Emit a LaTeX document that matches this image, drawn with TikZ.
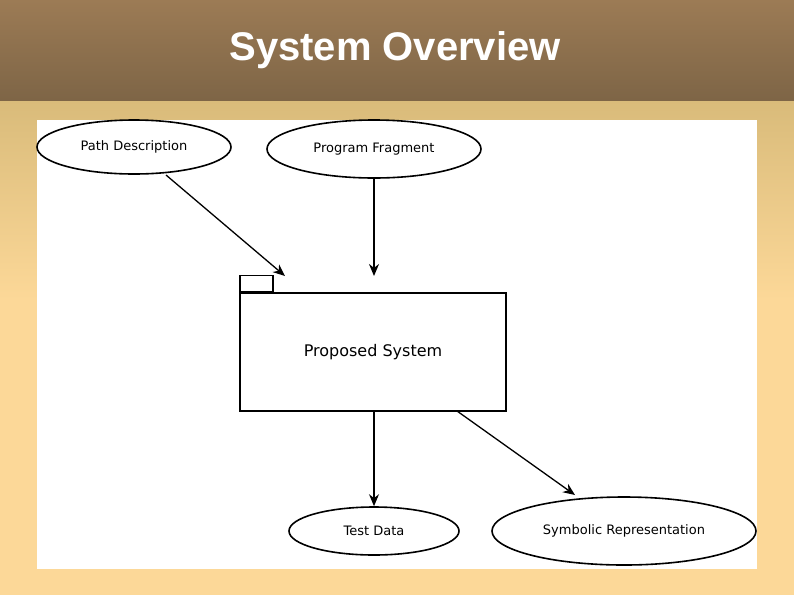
\documentclass[tikz,border=0pt]{standalone}
\usepackage{fontspec}
\setmainfont{DejaVu Sans}
\newfontfamily\titlefont{Liberation Sans}
\usetikzlibrary{arrows.meta,shapes.geometric}
\definecolor{hdtop}{RGB}{156,123,85}
\definecolor{hdbot}{RGB}{126,101,70}
\definecolor{bgtop}{RGB}{217,187,122}
\definecolor{bgbot}{RGB}{252,216,152}
\begin{document}
\begin{tikzpicture}[x=1pt,y=-1pt,
  ell/.style={draw,line width=1.6pt,ellipse,inner sep=0pt,font=\fontsize{13}{15}\selectfont},
  arr/.style={line width=1.3pt,-{Stealth[length=12pt,width=10pt]}}]
\useasboundingbox (0,0) rectangle (794,595);
\fill[bgbot] (0,100) rectangle (794,595);
\shade[top color=bgtop,bottom color=bgbot] (0,100) rectangle (794,300);
\shade[top color=hdtop,bottom color=hdbot] (0,0) rectangle (794,100);
\node[text=white,font=\titlefont\bfseries\fontsize{40}{46}\selectfont] (title) at (395,50) {System Overview};
\fill[white] (37,120) rectangle (757,569);
\node[ell,minimum width=194pt,minimum height=54pt] (pd) at (134,147) {Path Description};
\node[ell,minimum width=214pt,minimum height=58pt] (pf) at (374,149) {Program Fragment};
\node[ell,minimum width=170pt,minimum height=48pt] (td) at (374,531) {Test Data};
\node[ell,minimum width=264pt,minimum height=68pt] (sr) at (624,531) {Symbolic Representation};
\node[draw,line width=1.6pt,minimum width=266pt,minimum height=118pt,inner sep=0pt,font=\fontsize{16}{18}\selectfont,text depth=0pt] (ps) at (373,352) {\raisebox{4pt}{Proposed System}};
\node[draw,line width=1.6pt,minimum width=33pt,minimum height=16pt,inner sep=0pt,anchor=south west] (tab) at (ps.north west) {};
\coordinate (a0) at (166,175);
\coordinate (a1) at (285,276);
\coordinate (a2) at (374,276);
\coordinate (b2) at (457,411);
\coordinate (b3) at (575,495);
\draw[arr] (a0) -- (a1);
\draw[arr] (pf.south) -- (a2);
\draw[arr] (ps.south -| td) -- (td.north);
\draw[arr] (b2) -- (b3);
\end{tikzpicture}
\end{document}
